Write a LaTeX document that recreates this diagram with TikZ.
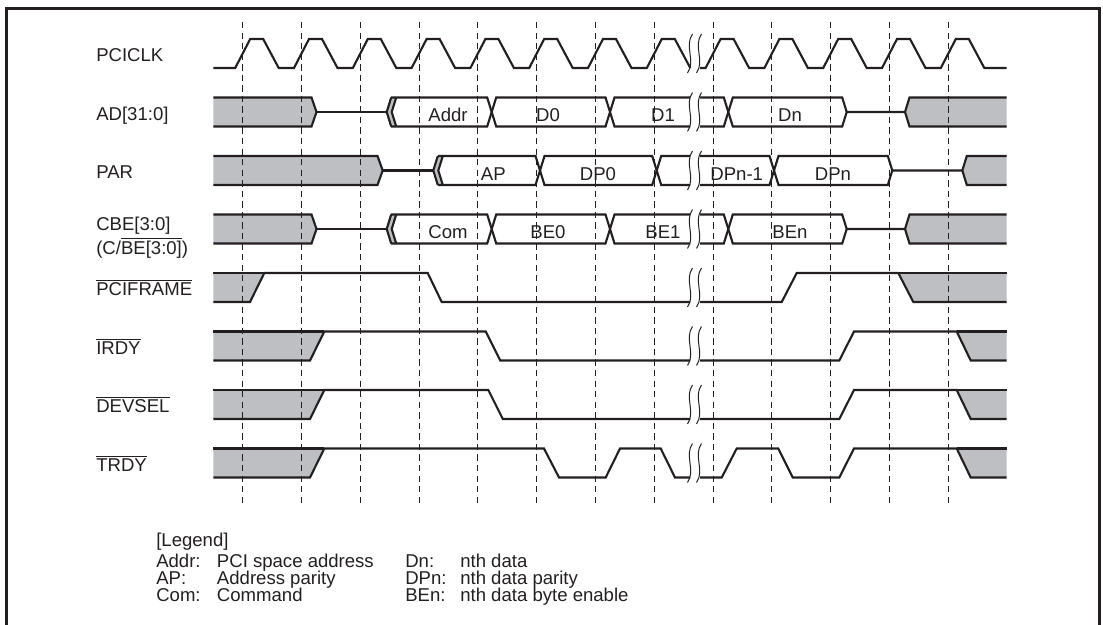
\documentclass[tikz,border=0pt]{standalone}
\usepackage{fontspec}
\setmainfont{Liberation Sans}
\usepackage{tikz}
\usetikzlibrary{positioning}
\definecolor{busgray}{RGB}{190,191,194}
\definecolor{ink}{RGB}{35,31,32}
\newcommand\ovl[1]{$\overline{\hbox{#1}}$}
\tikzset{
  sig/.style = {draw=ink, line width=1.5pt},
  bus/.style = {fill=busgray},
  tickline/.style = {draw=ink, line width=0.7pt, dash pattern=on 4.5pt off 3pt},
  brk/.style = {draw=ink, line width=0.7pt},
  lbl/.style = {anchor=base west, inner sep=0pt, text=ink, font=\fontsize{13.2}{15}\selectfont},
  val/.style = {anchor=base, inner sep=0pt, text=ink, font=\fontsize{13.2}{15}\selectfont},
  lane/.style = {shift={(0,#1)}}
}

\begin{document}
\begin{tikzpicture}[x=0.025cm, y=-0.025cm]
  \useasboundingbox (0,0) rectangle (1103,624);
  \draw[ink, line width=1.8pt] (6.3,640) -- (6.3,8.3) -- (1099.7,8.3) -- (1099.7,640);

  % signal names
  \node[lbl] (lclk) at (96,61.7) {PCICLK};
  \node[lbl] (lad) at (96,120.2) {AD[31:0]};
  \node[lbl] (lpar) at (96,178.7) {PAR};
  \node[lbl] (lcbe) at (96,230.7) {CBE[3:0]};
  \node[lbl] (lcbeb) at (96,254) {(C/\ovl{BE[3:0]})};
  \node[lbl] (lframe) at (96,295.7) {\ovl{PCIFRAME}};
  \node[lbl] (lirdy) at (96,354.2) {\ovl{IRDY}};
  \node[lbl] (ldevsel) at (96,412.7) {\ovl{DEVSEL}};
  \node[lbl] (ltrdy) at (96,471.2) {\ovl{TRDY}};

  % clock
  \begin{scope}[lane=39]
    \draw[sig] (213.3,29) \foreach \i [evaluate=\i as \d using 242.7+58.8*\i] in {0,...,7}
      { -- (\d-7.5,29) -- (\d+7.5,0) -- (\d+20.5,0) -- (\d+36,29) };
    \draw[sig] (700,29) \foreach \i [evaluate=\i as \d using 242.7+58.8*\i] in {8,...,12}
      { -- (\d-7.5,29) -- (\d+7.5,0) -- (\d+20.5,0) -- (\d+36,29) } -- (1006.7,29);
  \end{scope}

  % AD and CBE buses
  \foreach \y/\k/\a/\b/\c/\n in {97.5/ad/Addr/D0/D1/Dn, 214.5/cbe/Com/BE0/BE1/BEn} {
    \begin{scope}[lane=\y]
      \fill[bus] (213.3,0) -- (311.5,0) -- (316.5,14.5) -- (311.5,29) -- (213.3,29) -- cycle;
      \fill[bus] (386.7,14.5) -- (391.2,0) -- (396.2,0) -- (391.7,14.5) -- (396.2,29) -- (391.2,29) -- cycle;
      \fill[bus] (1006.7,0) -- (909.5,0) -- (905,14.5) -- (909.5,29) -- (1006.7,29) -- cycle;
      \draw[sig] (213.3,0) -- (311.5,0) -- (316.5,14.5) -- (311.5,29) -- (213.3,29);
      \draw[sig] (316.5,14.5) -- (386.7,14.5);
      \draw[sig] (391.2,0) -- (386.7,14.5) -- (391.2,29) (396.2,0) -- (391.7,14.5) -- (396.2,29);
      \draw[sig] (391.2,0) -- (487.2,0) -- (496.2,29) -- (605.5,29) -- (614.5,0) -- (690,0);
      \draw[sig] (391.2,29) -- (487.2,29) -- (496.2,0) -- (605.5,0) -- (614.5,29) -- (690,29);
      \draw[sig] (700,0) -- (723.8,0) -- (732.8,29) -- (842.2,29) -- (846.7,14.5) -- (905,14.5) -- (909.5,0) -- (1006.7,0);
      \draw[sig] (700,29) -- (723.8,29) -- (732.8,0) -- (842.2,0) -- (846.7,14.5);
      \draw[sig] (905,14.5) -- (909.5,29) -- (1006.7,29);
      \node[val] (\k1) at (448,24.2) {\a};
      \node[val] (\k2) at (548,24.2) {\b};
      \node[val] (\k3) at (663,24.2) {\c};
      \node[val] (\k4) at (790,24.2) {\n};
    \end{scope}
  }

  % PAR
  \begin{scope}[lane=156]
    \fill[bus] (213.3,0) -- (377.5,0) -- (382.7,14.5) -- (377.5,29) -- (213.3,29) -- cycle;
    \fill[bus] (433.3,14.5) -- (437.8,0) -- (442.8,0) -- (438.3,14.5) -- (442.8,29) -- (437.8,29) -- cycle;
    \fill[bus] (1006.7,0) -- (966.8,0) -- (962.3,14.5) -- (966.8,29) -- (1006.7,29) -- cycle;
    \draw[sig] (213.3,0) -- (377.5,0) -- (382.7,14.5) -- (377.5,29) -- (213.3,29);
    \draw[sig] (382.7,14.5) -- (433.3,14.5);
    \draw[sig] (437.8,0) -- (433.3,14.5) -- (437.8,29) (442.8,0) -- (438.3,14.5) -- (442.8,29);
    \draw[sig] (437.8,0) -- (535.5,0) -- (544.5,29) -- (652.2,29) -- (661.2,0) -- (690,0);
    \draw[sig] (437.8,29) -- (535.5,29) -- (544.5,0) -- (652.2,0) -- (661.2,29) -- (690,29);
    \draw[sig] (700,0) -- (769.5,0) -- (778.5,29) -- (887.8,29) -- (892.3,14.5) -- (962.3,14.5) -- (966.8,0) -- (1006.7,0);
    \draw[sig] (700,29) -- (769.5,29) -- (778.5,0) -- (887.8,0) -- (892.3,14.5);
    \draw[sig] (962.3,14.5) -- (966.8,29) -- (1006.7,29);
    \node[val] (par1) at (493.3,24.2) {AP};
    \node[val] (par2) at (598,24.2) {DP0};
    \node[val] (par3) at (736.7,24.2) {DPn-1};
    \node[val] (par4) at (833,24.2) {DPn};
  \end{scope}

  % PCIFRAME
  \begin{scope}[lane=273]
    \fill[bus] (213.3,0) -- (264.3,0) -- (250,29) -- (213.3,29) -- cycle;
    \fill[bus] (898.3,0) -- (1006.7,0) -- (1006.7,29) -- (913.3,29) -- cycle;
    \draw[sig] (213.3,0) -- (264.3,0);
    \draw[sig] (213.3,29) -- (250,29) -- (264.3,0) -- (427.7,0) -- (441.7,29) -- (690,29);
    \draw[sig] (700,29) -- (781.7,29) -- (796.7,0) -- (898.3,0) -- (913.3,29) -- (1006.7,29);
    \draw[sig] (898.3,0) -- (1006.7,0);
  \end{scope}

  % IRDY, DEVSEL
  \foreach \y/\f in {331.5/485.7, 390/488.3} {
    \begin{scope}[lane=\y]
      \fill[bus] (213.3,0) -- (324.3,0) -- (310,29) -- (213.3,29) -- cycle;
      \fill[bus] (956.7,0) -- (1006.7,0) -- (1006.7,29) -- (970.7,29) -- cycle;
      \draw[sig] (213.3,0) -- (324.3,0);
      \draw[sig] (213.3,29) -- (310,29) -- (324.3,0) -- (\f,0) -- (\f+14.5,29) -- (690,29);
      \draw[sig] (700,29) -- (839.3,29) -- (854,0) -- (956.7,0) -- (970.7,29) -- (1006.7,29);
      \draw[sig] (956.7,0) -- (1006.7,0);
    \end{scope}
  }

  % TRDY
  \begin{scope}[lane=448.5]
    \fill[bus] (213.3,0) -- (324.3,0) -- (310,29) -- (213.3,29) -- cycle;
    \fill[bus] (956.7,0) -- (1006.7,0) -- (1006.7,29) -- (970.7,29) -- cycle;
    \draw[sig] (213.3,0) -- (324.3,0);
    \draw[sig] (213.3,29) -- (310,29) -- (324.3,0) -- (544,0) -- (559,29) -- (605.7,29) -- (620,0)
      -- (660.7,0) -- (675,29) -- (690,29);
    \draw[sig] (700,29) -- (721.7,29) -- (736.7,0) -- (778.3,0) -- (792.7,29) -- (839.3,29) -- (854,0)
      -- (956.7,0) -- (970.7,29) -- (1006.7,29);
    \draw[sig] (956.7,0) -- (1006.7,0);
  \end{scope}

  % break marks
  \foreach \y in {39,97.5,156,214.5,273,331.5,390,448.5}
    \foreach \x in {690,699}
      \draw[brk] (\x+2.5,\y-5) .. controls (\x-6,\y+7) and (\x+6,\y+22) .. (\x-2.5,\y+34);

  % clock edges
  \foreach \i in {0,...,12}
    \draw[tickline] ({242.7+58.8*\i},22) -- ({242.7+58.8*\i},507);

  % legend
  \node[lbl] (leg) at (156,546) {[Legend]};
  \node[lbl] (leg1) at (156,567.5) {Addr:};
  \node[lbl] (leg2) at (156,584.3) {AP:};
  \node[lbl] (leg3) at (156,601) {Com:};
  \node[lbl] (leg1t) at (216.7,567.5) {PCI space address};
  \node[lbl] (leg2t) at (216.7,584.3) {Address parity};
  \node[lbl] (leg3t) at (216.7,601) {Command};
  \node[lbl] (leg4) at (405,567.5) {Dn:};
  \node[lbl] (leg5) at (405,584.3) {DPn:};
  \node[lbl] (leg6) at (405,601) {BEn:};
  \node[lbl] (leg4t) at (460,567.5) {nth data};
  \node[lbl] (leg5t) at (460,584.3) {nth data parity};
  \node[lbl] (leg6t) at (460,601) {nth data byte enable};
\end{tikzpicture}
\end{document}
